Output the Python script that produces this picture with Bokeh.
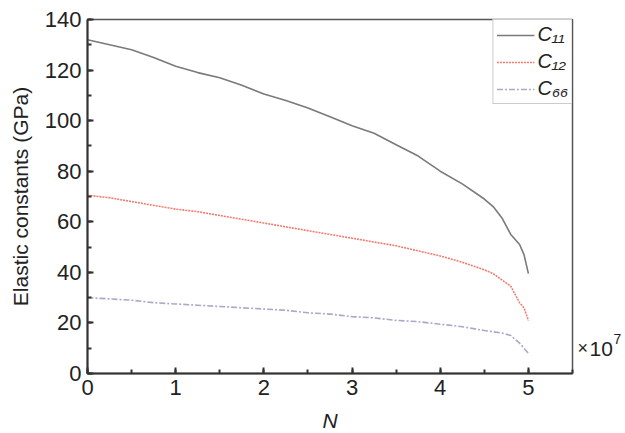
from bokeh.plotting import figure
from bokeh.models import Range1d, SingleIntervalTicker, Legend, LegendItem, Div, Label
from bokeh.layouts import row, column
from bokeh.embed import file_html
from bokeh.resources import INLINE

# Data (N in units of 1e7, elastic constants in GPa)
n_c11 = [0, 0.25, 0.5, 0.75, 1.0, 1.25, 1.5, 1.75, 2.0, 2.25, 2.5, 2.75, 3.0,
         3.25, 3.5, 3.75, 4.0, 4.25, 4.5, 4.6, 4.7, 4.8, 4.9, 4.95, 5.0]
c11 = [132, 130, 128, 125, 121.5, 119, 117, 114, 110.5, 108, 105, 101.5, 98,
       95, 90.5, 86, 80, 75, 69, 66, 61.5, 55, 51, 47, 39.5]

n_c12 = [0, 0.25, 0.5, 0.75, 1.0, 1.25, 1.5, 1.75, 2.0, 2.25, 2.5, 2.75, 3.0,
         3.25, 3.5, 3.75, 4.0, 4.25, 4.5, 4.6, 4.7, 4.8, 4.9, 4.95, 5.0]
c12 = [70.5, 69.5, 68, 66.5, 65, 64, 62.5, 61, 59.5, 58, 56.5, 55, 53.5,
       52, 50.5, 48.5, 46.5, 44, 41, 39.5, 37, 34.5, 28, 26, 21]

n_c66 = [0, 0.25, 0.5, 0.75, 1.0, 1.25, 1.5, 1.75, 2.0, 2.25, 2.5, 2.75, 3.0,
         3.25, 3.5, 3.75, 4.0, 4.25, 4.5, 4.6, 4.7, 4.8, 4.9, 5.0]
c66 = [30, 29.5, 29, 28, 27.5, 27, 26.5, 26, 25.5, 25, 24, 23.5, 22.5,
       22, 21, 20.5, 19.5, 18.5, 17, 16.5, 16, 15, 12, 8]

series_labels = ["C\u2081\u2081", "C\u2081\u2082", "C\u2086\u2086"]
x_label = "N"
y_label = "Elastic constants (GPa)"
x_ticks_interval = 1
y_ticks_interval = 20

FONT = "Liberation Sans"

p = figure(width=576, height=407, output_backend="svg", toolbar_location=None,
           x_range=Range1d(0, 5.5), y_range=Range1d(0, 140),
           min_border_left=87, min_border_right=4, min_border_top=19,
           min_border_bottom=34)

p.background_fill_color = "white"
p.border_fill_color = "white"
p.outline_line_color = "#555555"
p.outline_line_width = 1.5
p.xgrid.visible = False
p.ygrid.visible = False

r11 = p.line(n_c11, c11, line_color="#7a7a7a", line_width=1.6)
r12 = p.line(n_c12, c12, line_color="#f07c70", line_width=1.6, line_dash="2 1")
r66 = p.line(n_c66, c66, line_color="#a9a9c9", line_width=1.6, line_dash="6 2 2 2")

for ax in (p.xaxis[0], p.yaxis[0]):
    ax.axis_line_color = "#333333"
    ax.axis_line_width = 2
    ax.major_tick_in = 6
    ax.major_tick_out = 0
    ax.minor_tick_in = 4
    ax.minor_tick_out = 0
    ax.major_tick_line_color = "#333333"
    ax.minor_tick_line_color = "#333333"
    ax.major_tick_line_width = 2
    ax.minor_tick_line_width = 2
    ax.major_label_text_font = FONT
    ax.major_label_text_font_size = "22px"
    ax.major_label_text_color = "#222222"
    ax.axis_label_text_font = FONT
    ax.axis_label_text_font_size = "21px"
    ax.axis_label_text_color = "#222222"

p.xaxis[0].ticker = SingleIntervalTicker(interval=x_ticks_interval, num_minor_ticks=2)
p.yaxis[0].ticker = SingleIntervalTicker(interval=y_ticks_interval, num_minor_ticks=2)
p.xaxis[0].major_label_standoff = 6
p.yaxis[0].axis_label = y_label
p.yaxis[0].axis_label_text_font_style = "normal"
p.yaxis[0].major_label_standoff = 6
p.yaxis[0].axis_label_standoff = 10

legend = Legend(items=[
    LegendItem(label=series_labels[0], renderers=[r11]),
    LegendItem(label=series_labels[1], renderers=[r12]),
    LegendItem(label=series_labels[2], renderers=[r66]),
], location="top_right")
legend.margin = 0
legend.padding = 3
legend.spacing = 4
legend.glyph_width = 38
legend.label_standoff = 3
legend.label_text_font = FONT
legend.label_text_font_size = "20px"
legend.label_text_font_style = "italic"
legend.label_text_color = "#222222"
legend.border_line_color = "#999999"
legend.border_line_width = 1.5
legend.background_fill_alpha = 1.0
p.add_layout(legend)

# Small companion canvas holding the axis multiplier "× 10^7"
q = figure(width=49, height=407, output_backend="svg", toolbar_location=None,
           x_range=Range1d(0, 49), y_range=Range1d(0, 407),
           min_border=0, x_axis_type=None, y_axis_type=None)
q.outline_line_color = None
q.xgrid.visible = False
q.ygrid.visible = False
q.background_fill_color = "white"
q.border_fill_color = "white"
q.add_layout(Label(x=1, y=26, x_units="screen", y_units="screen", text="\u00d7",
                   text_font=FONT, text_font_size="18px", text_color="#222222",
                   text_baseline="alphabetic", text_align="left"))
q.add_layout(Label(x=13, y=25, x_units="screen", y_units="screen", text="10",
                   text_font=FONT, text_font_size="21px", text_color="#222222",
                   text_baseline="alphabetic", text_align="left"))
q.add_layout(Label(x=37, y=35, x_units="screen", y_units="screen", text="7",
                   text_font=FONT, text_font_size="14px", text_color="#222222",
                   text_baseline="alphabetic", text_align="left"))

base = "font-family:'Liberation Sans'; color:#222222; line-height:1;"
n_html = ("<span style=\"" + base + " font-size:21px; font-style:italic;\">"
          + x_label + "</span>")
n_div = Div(text=n_html, width=625, height=26, margin=0,
            styles={"padding-top": "3px", "padding-left": "35px",
                    "text-align": "center", "line-height": "1",
                    "box-sizing": "border-box", "width": "625px"})

layout = column(row(p, q, spacing=0), n_div, spacing=0)

open("out.html", "w").write(file_html(layout, INLINE))
